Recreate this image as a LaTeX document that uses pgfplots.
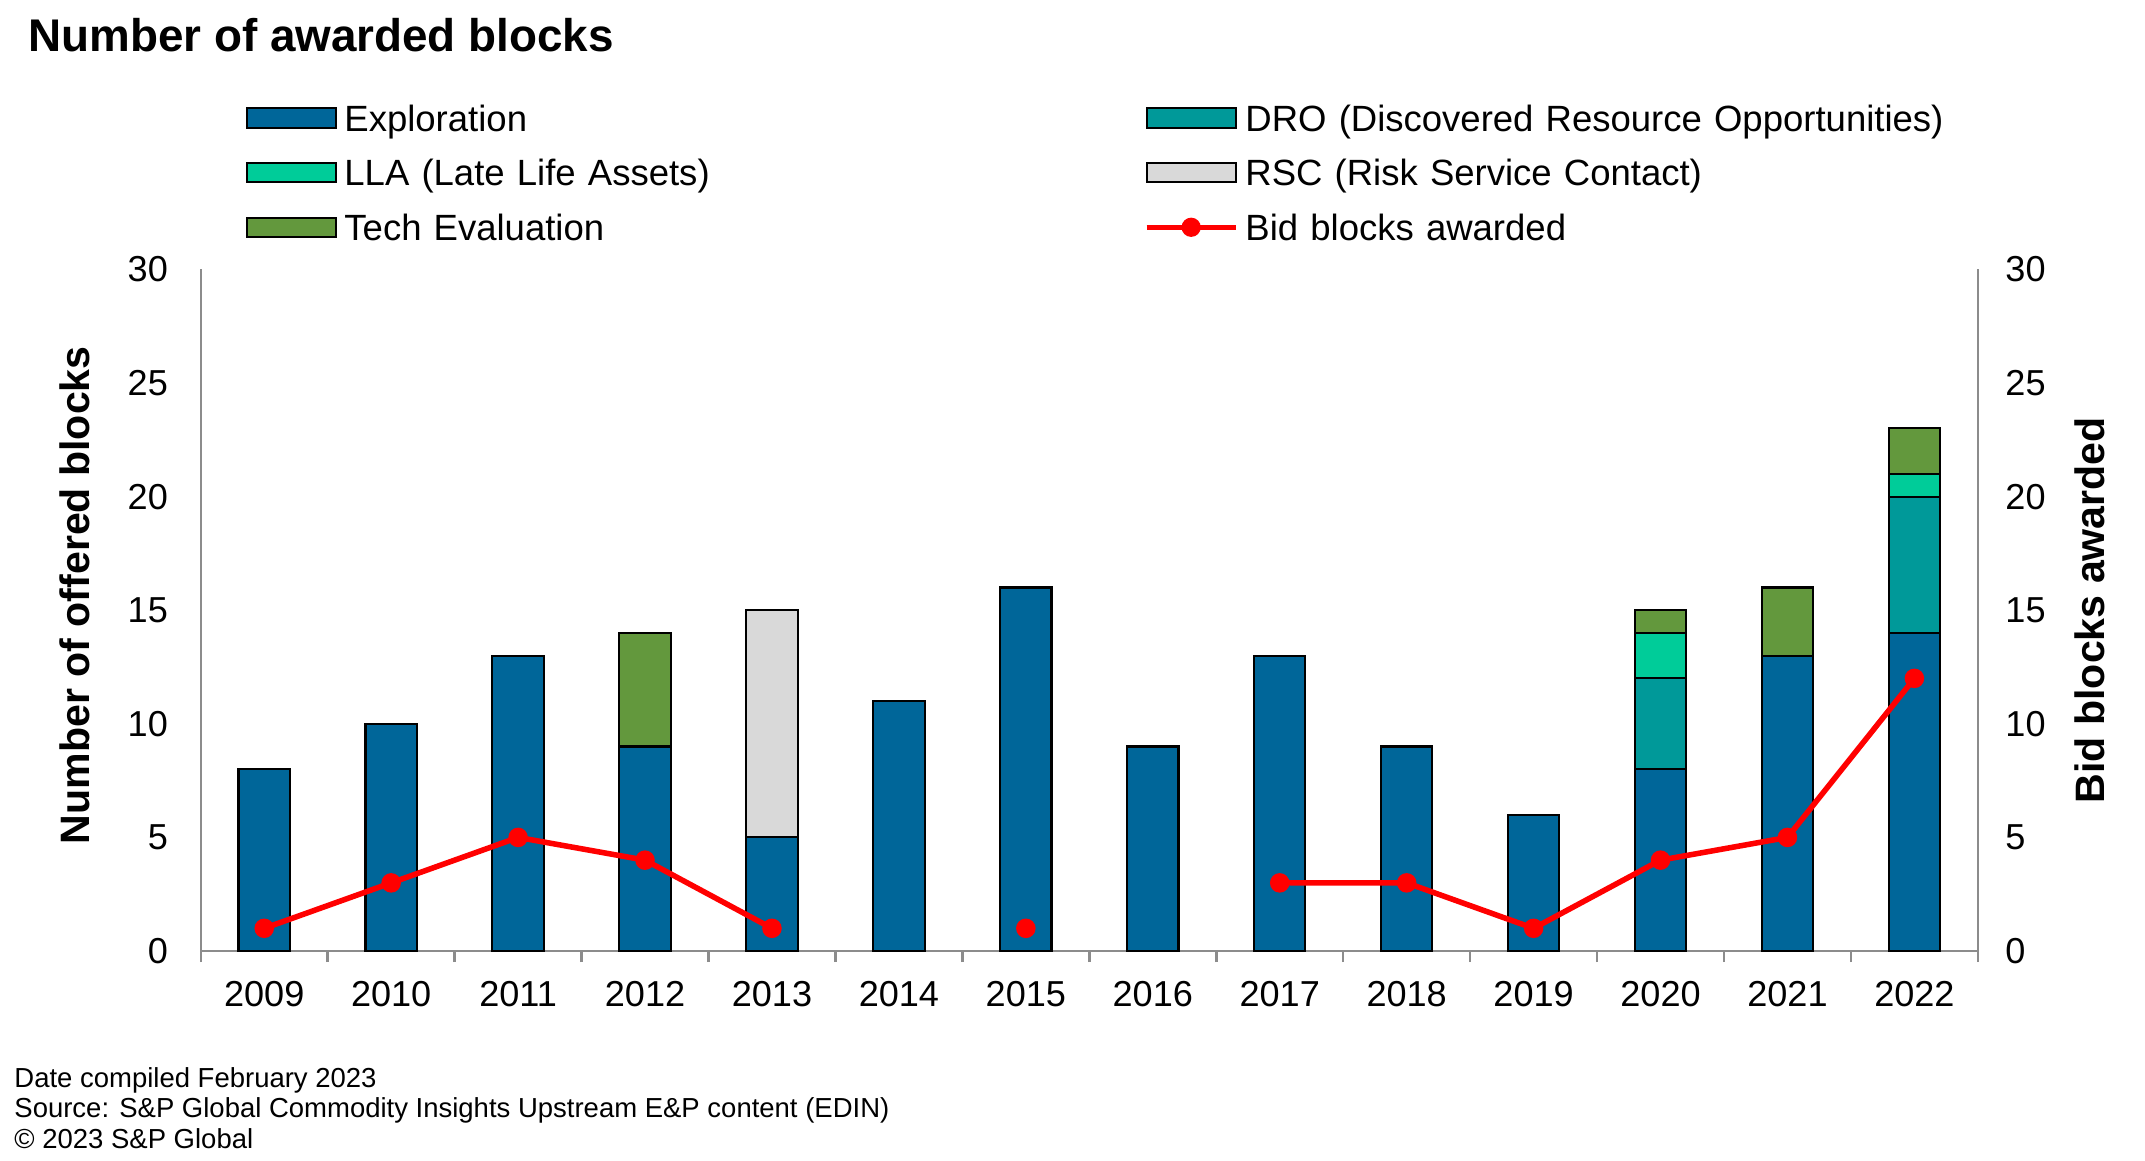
\documentclass[border=0pt]{standalone}
\usepackage{pgfplots}
\pgfplotsset{compat=1.18}
\usepackage{pgfplotstable}
\usepackage{fontspec}
\setmainfont{Liberation Sans}

\definecolor{cExpl}{RGB}{0,102,153}
\definecolor{cDRO}{RGB}{0,153,153}
\definecolor{cLLA}{RGB}{0,204,153}
\definecolor{cRSC}{RGB}{217,217,217}
\definecolor{cTech}{RGB}{99,152,61}
\definecolor{axgray}{RGB}{140,140,140}

% offered blocks by type, and bid blocks awarded (nan = no bid round)
\pgfplotstableread{
x  expl dro lla rsc tech bid
0  8    0   0   0   0    1
1  10   0   0   0   0    3
2  13   0   0   0   0    5
3  9    0   0   0   5    4
4  5    0   0   10  0    1
5  11   0   0   0   0    nan
6  16   0   0   0   0    1
7  9    0   0   0   0    nan
8  13   0   0   0   0    3
9  9    0   0   0   0    3
10 6    0   0   0   0    1
11 8    4   2   0   1    4
12 13   0   0   0   3    5
13 14   6   1   0   2    12
}\blocks

\pgfplotsset{
  base/.style={
    at={(72.3pt,-342.5pt)}, anchor=south west,
    scale only axis, width=640pt, height=245.5pt,
    xmin=-0.5, xmax=13.5, ymin=0, ymax=30,
    ytick={0,5,...,30},
    axis line style={axgray, line width=0.9pt, -},
    major tick length=0pt,
    tick label style={font=\fontsize{13}{16}\selectfont},
    /pgf/number format/assume math mode=true,
    clip=false,
  },
  segment/.style={fill=#1, draw=black, line width=0.75pt,
    legend image code/.code={\draw[##1] (0pt,-2.2pt) rectangle (32pt,4.8pt);}},
  lineleg/.style={legend image code/.code={%
    \draw[##1,sharp plot,mark repeat=2,mark phase=2] plot coordinates {(0pt,1.3pt) (16pt,1.3pt) (32pt,1.3pt)};}},
}

\begin{document}
\begin{tikzpicture}
\useasboundingbox (0,0) rectangle (772.5pt,-418pt);

\node[anchor=base west, inner sep=0pt, font=\bfseries\fontsize{16.5}{20}\selectfont]
  at (10pt,-18.7pt) {Number of awarded blocks};

\begin{axis}[base,
  ybar stacked, bar width=18.5pt,
  axis x line*=bottom, axis y line*=left,
  xtick={0,...,13},
  xticklabels={2009,2010,2011,2012,2013,2014,2015,2016,2017,2018,2019,2020,2021,2022},
  minor xtick={-0.5,0.5,...,13.5},
  minor tick length=4pt, tick align=outside,
  minor tick style={axgray, line width=0.9pt},
  xticklabel style={yshift=-7.5pt},
  yticklabel style={xshift=-8.3pt},
  ylabel={Number of offered blocks},
  y label style={at={(axis description cs:-0.071,0.522)}, anchor=center,
    font=\bfseries\fontsize{14.8}{18}\selectfont},
  legend columns=2,
  legend cell align=left,
  legend style={at={(axis description cs:0.0256,1.2434)}, anchor=north west,
    draw=none, fill=none, inner sep=0pt, outer sep=0pt,
    font=\fontsize{13.15}{16}\selectfont, row sep=6.7pt,
    nodes={inner sep=0pt, text height=10pt, text depth=3pt, text width=288pt, align=left},
    /tikz/every odd column/.append style={column sep=2.6pt}},
]
\addplot[segment=cExpl] table[x=x,y=expl]{\blocks};
\addlegendentry{Exploration}
\addplot[segment=cDRO] table[x=x,y=dro]{\blocks};
\addlegendentry{DRO (Discovered Resource Opportunities)}
\addplot[segment=cLLA] table[x=x,y=lla]{\blocks};
\addlegendentry{LLA (Late Life Assets)}
\addplot[segment=cRSC] table[x=x,y=rsc]{\blocks};
\addlegendentry{RSC (Risk Service Contact)}
\addplot[segment=cTech] table[x=x,y=tech]{\blocks};
\addlegendentry{Tech Evaluation}
\addlegendimage{red, line width=1.9pt, mark=*, mark size=2.5pt, lineleg}
\addlegendentry{Bid blocks awarded}
\end{axis}

\begin{axis}[base,
  axis y line*=right, axis x line=none,
  yticklabel style={xshift=6.4pt},
  ylabel={Bid blocks awarded},
  every axis y label/.style={at={(axis description cs:1.063,0.5)}, rotate=90, anchor=center,
    font=\bfseries\fontsize{14.8}{18}\selectfont},
]
\addplot[red, line width=2pt, mark=*, mark size=2.5pt, unbounded coords=jump]
  table[x=x,y=bid]{\blocks};
\end{axis}

\begin{scope}[every node/.style={anchor=base west, inner sep=0pt, font=\fontsize{9.9}{11}\selectfont}]
\node at (5pt,-391.6pt) {Date compiled February 2023};
\node at (5pt,-402.4pt) {Source: S\&P Global Commodity Insights Upstream E\&P content (EDIN)};
\node at (5pt,-413.7pt) {\textcopyright{} 2023 S\&P Global};
\end{scope}
\end{tikzpicture}
\end{document}
